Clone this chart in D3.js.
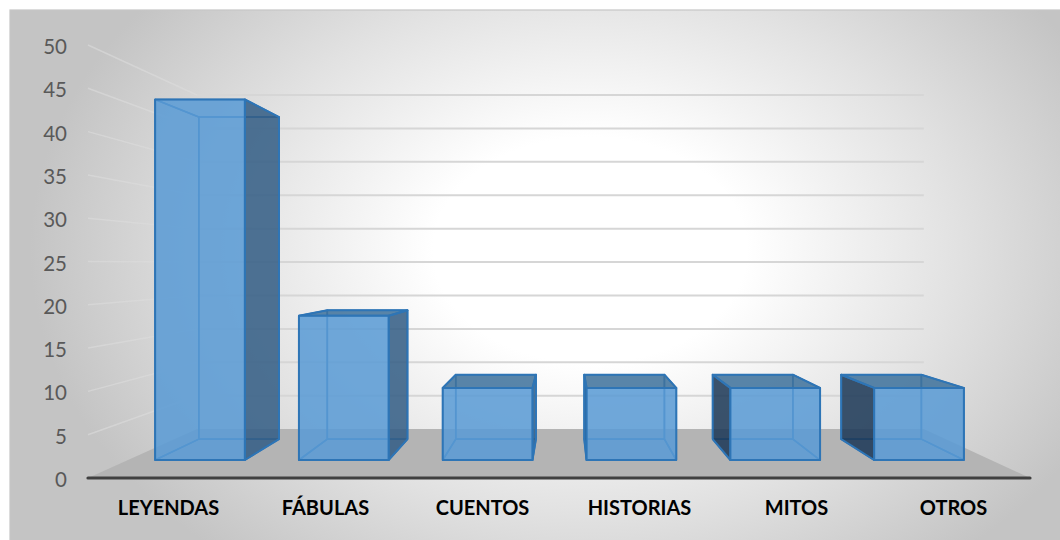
<!DOCTYPE html>
<html>
<head>
<meta charset="utf-8">
<script src="https://cdn.jsdelivr.net/npm/d3@7"></script>
<style>
  html, body { margin: 0; padding: 0; background: #ffffff; }
  svg { display: block; }
</style>
</head>
<body>
<svg id="chart" width="1060" height="540"></svg>
<script>
"use strict";

// data
const categories = ["LEYENDAS", "FÁBULAS", "CUENTOS", "HISTORIAS", "MITOS", "OTROS"];
const values = [45.45, 18.18, 9.09, 9.09, 9.09, 9.09];
const yTicks = [0, 5, 10, 15, 20, 25, 30, 35, 40, 45, 50];

const svg = d3.select("#chart");

// front plane scales (the front edge of the floor)
const x = d3.scaleBand().domain(categories).range([88, 1030])
            .paddingInner(0.376).paddingOuter(0.188);
const y = d3.scaleLinear().domain([0, 50]).range([478, 45]);

// simple one point perspective: depth z goes 0 (front) -> 1 (back wall)
const vp = {x: 565, y: 264};
const persp = 0.296;
function proj(px, py, z) {
  const s = 1 / (1 + persp * z);
  return [vp.x + (px - vp.x) * s, vp.y + (py - vp.y) * s];
}
const line = d3.line();
const barZ0 = 0.31, barZ1 = 0.75;

// background
const defs = svg.append("defs");
const grad = defs.append("radialGradient")
    .attr("id", "bg")
    .attr("gradientUnits", "userSpaceOnUse")
    .attr("cx", 590).attr("cy", 250).attr("r", 560)
    .attr("gradientTransform", "translate(590,250) scale(1,0.72) translate(-590,-250)");
grad.append("stop").attr("offset", "0").attr("stop-color", "#ffffff");
grad.append("stop").attr("offset", "0.28").attr("stop-color", "#ffffff");
grad.append("stop").attr("offset", "0.65").attr("stop-color", "#e2e2e2");
grad.append("stop").attr("offset", "1").attr("stop-color", "#c4c4c4");

svg.append("rect")
    .attr("x", 10).attr("y", 10).attr("width", 1060).attr("height", 540)
    .attr("fill", "url(#bg)")
    .attr("stroke", "#c6c6c6").attr("stroke-width", 1.2);

const [fx0, fx1] = x.range();

// side wall and back wall gridlines
const grid = svg.append("g").attr("class", "grid");
yTicks.filter(t => t > 0).forEach(t => {
  grid.append("path")
      .attr("d", line([proj(fx0, y(t), 0), proj(fx0, y(t), 1)]))
      .attr("stroke", "#dcdcdc").attr("stroke-width", 1.5).attr("stroke-opacity", 0.6)
      .attr("fill", "none");
  grid.append("path")
      .attr("d", line([proj(fx0, y(t), 1), proj(fx1, y(t), 1)]))
      .attr("stroke", "#d6d6d6").attr("stroke-width", 2).attr("fill", "none");
});

// floor
svg.append("path")
    .attr("d", line([proj(fx0, y(0), 0), proj(fx1, y(0), 0), proj(fx1, y(0), 1), proj(fx0, y(0), 1)]) + "Z")
    .attr("fill", "#b4b4b4");

svg.append("line")
    .attr("x1", fx0).attr("x2", fx1).attr("y1", y(0)).attr("y2", y(0))
    .attr("stroke", "#404040").attr("stroke-width", 3.2).attr("stroke-linecap", "round");

// bars
const edge = "#2e75b6";
const bars = svg.append("g").attr("class", "bars");
categories.forEach((c, i) => {
  const x0 = x(c), x1 = x(c) + x.bandwidth();
  const yb = y(0), yt = y(values[i]);
  const P = (px, py, z) => proj(px, py, z);
  const faces = {
    back:   [P(x0, yb, barZ1), P(x1, yb, barZ1), P(x1, yt, barZ1), P(x0, yt, barZ1)],
    bottom: [P(x0, yb, barZ0), P(x1, yb, barZ0), P(x1, yb, barZ1), P(x0, yb, barZ1)],
    left:   [P(x0, yb, barZ0), P(x0, yt, barZ0), P(x0, yt, barZ1), P(x0, yb, barZ1)],
    right:  [P(x1, yb, barZ0), P(x1, yt, barZ0), P(x1, yt, barZ1), P(x1, yb, barZ1)],
    top:    [P(x0, yt, barZ0), P(x1, yt, barZ0), P(x1, yt, barZ1), P(x0, yt, barZ1)],
    front:  [P(x0, yb, barZ0), P(x1, yb, barZ0), P(x1, yt, barZ0), P(x0, yt, barZ0)]
  };
  const showLeft = x0 > vp.x, showRight = x1 < vp.x, showTop = yt > vp.y;
  const g = bars.append("g");

  // hidden faces: only their edges, seen through the front
  const hidden = ["back", "bottom"];
  if (!showLeft) hidden.push("left");
  if (!showRight) hidden.push("right");
  if (!showTop) hidden.push("top");
  hidden.forEach(f => {
    g.append("path").attr("d", line(faces[f]) + "Z")
      .attr("fill", "#5b9bd5").attr("fill-opacity", 0.12)
      .attr("stroke", edge).attr("stroke-width", 1.6).attr("stroke-linejoin", "round");
  });

  const visible = [];
  if (showLeft) visible.push(["left", "#1c3755"]);
  if (showRight) visible.push(["right", "#345d84"]);
  if (showTop) visible.push(["top", "#3f729b"]);
  visible.push(["front", "#5b9bd5"]);
  visible.forEach(([f, col]) => {
    g.append("path").attr("d", line(faces[f]) + "Z")
      .attr("fill", col).attr("fill-opacity", 0.85)
      .attr("stroke", edge).attr("stroke-width", 2).attr("stroke-linejoin", "round");
  });
});

// value axis labels
svg.append("g").selectAll("text")
  .data(yTicks).enter().append("text")
    .attr("x", 67).attr("y", d => y(d) + 1)
    .attr("text-anchor", "end").attr("dominant-baseline", "central")
    .attr("font-family", "Lato, 'Open Sans', sans-serif").attr("font-size", 20.5)
    .attr("fill", "#595959")
    .text(d => d);

// category labels
svg.append("g").selectAll("text")
  .data(categories).enter().append("text")
    .attr("x", d => x(d) + x.bandwidth() / 2 + 2).attr("y", 515)
    .attr("text-anchor", "middle")
    .attr("font-family", "Lato, 'Open Sans', sans-serif").attr("font-size", 20)
    .attr("font-weight", "bold").attr("fill", "#000000")
    .text(d => d);
</script>
</body>
</html>
